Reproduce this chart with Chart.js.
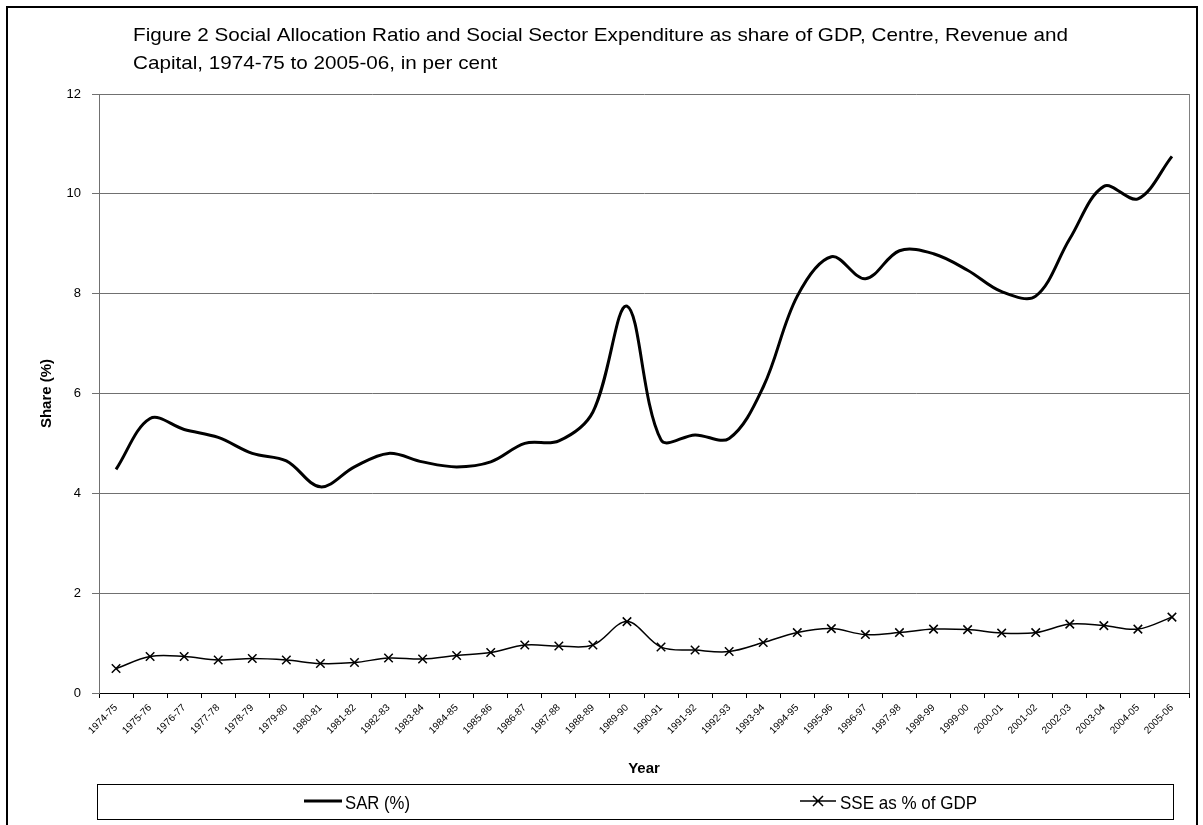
<!DOCTYPE html>
<html>
<head>
<meta charset="utf-8">
<title>Figure 2</title>
<script src="https://cdn.jsdelivr.net/npm/chart.js@4.4.0/dist/chart.umd.min.js"></script>
<style>
    body { margin: 0; background: #ffffff; }
</style>
</head>
<body>
<canvas id="myChart" width="1203" height="825"></canvas>
<script>
// data
var years = ['1974-75', '1975-76', '1976-77', '1977-78', '1978-79', '1979-80', '1980-81', '1981-82',
    '1982-83', '1983-84', '1984-85', '1985-86', '1986-87', '1987-88', '1988-89', '1989-90',
    '1990-91', '1991-92', '1992-93', '1993-94', '1994-95', '1995-96', '1996-97', '1997-98',
    '1998-99', '1999-00', '2000-01', '2001-02', '2002-03', '2003-04', '2004-05', '2005-06'];
var sarValues = [4.48, 5.5, 5.28, 5.12, 4.8, 4.65, 4.13, 4.53, 4.8, 4.63, 4.53, 4.63, 5.0, 5.05, 5.63, 7.75,
    5.07, 5.17, 5.1, 6.13, 7.95, 8.74, 8.3, 8.86, 8.8, 8.47, 8.04, 7.95, 9.1, 10.15, 9.9, 10.75];
var sseValues = [0.49, 0.73, 0.73, 0.66, 0.69, 0.66, 0.59, 0.61, 0.7, 0.68, 0.75, 0.81, 0.96, 0.94, 0.96, 1.43,
    0.92, 0.86, 0.83, 1.01, 1.21, 1.29, 1.17, 1.21, 1.28, 1.27, 1.2, 1.21, 1.38, 1.35, 1.28, 1.52];
var yMin = 0;
var yMax = 12;
var yStep = 2;
var titleLines = ['Figure 2 Social Allocation Ratio and Social Sector Expenditure as share of GDP, Centre, Revenue and',
    'Capital, 1974-75 to 2005-06, in per cent'];

var sans = "'Liberation Sans', Arial, sans-serif";

// draw text squeezed or stretched to a given width (the original uses a narrow face)
function fitText(ctx, text, x, y, width) {
    var w = ctx.measureText(text).width;
    ctx.save();
    ctx.translate(x, y);
    ctx.scale(width / w, 1);
    ctx.fillText(text, 0, 0);
    ctx.restore();
}

// frame, title and the boxed legend
var decorPlugin = {
    id: 'decor',
    beforeDraw: function(chart) {
        var ctx = chart.ctx;
        ctx.save();
        ctx.fillStyle = '#ffffff';
        ctx.fillRect(0, 0, chart.width, chart.height);
        ctx.strokeStyle = '#000000';
        ctx.lineWidth = 2;
        ctx.strokeRect(7, 7, 1190, 840);
        ctx.restore();
    },
    afterDraw: function(chart) {
        var ctx = chart.ctx;
        var area = chart.chartArea;
        ctx.save();

        // right edge of plot area
        ctx.strokeStyle = '#808080';
        ctx.lineWidth = 1;
        ctx.beginPath();
        ctx.moveTo(area.right + 0.5, area.top);
        ctx.lineTo(area.right + 0.5, area.bottom);
        ctx.stroke();

        // title
        ctx.fillStyle = '#000000';
        ctx.font = '18.6px ' + sans;
        ctx.textBaseline = 'alphabetic';
        ctx.textAlign = 'left';
        var k = 935 / ctx.measureText(titleLines[0]).width;
        fitText(ctx, titleLines[0], 133, 41, 935);
        fitText(ctx, titleLines[1], 133, 68.5, ctx.measureText(titleLines[1]).width * k);

        // legend box
        ctx.strokeStyle = '#000000';
        ctx.lineWidth = 1;
        ctx.strokeRect(97.5, 784.5, 1076, 35);
        var ds = chart.data.datasets;
        var ly = 801;

        ctx.lineWidth = 3;
        ctx.beginPath();
        ctx.moveTo(304, ly);
        ctx.lineTo(342, ly);
        ctx.stroke();
        fitText(ctx, ds[0].label, 345, 808.5, 65);

        ctx.lineWidth = 1.5;
        ctx.beginPath();
        ctx.moveTo(800, ly);
        ctx.lineTo(836, ly);
        ctx.moveTo(813, ly - 5);
        ctx.lineTo(823, ly + 5);
        ctx.moveTo(813, ly + 5);
        ctx.lineTo(823, ly - 5);
        ctx.stroke();
        fitText(ctx, ds[1].label, 840, 808.5, 137);

        ctx.restore();
    }
};

var ctx = document.getElementById('myChart').getContext('2d');
var myChart = new Chart(ctx, {
    type: 'line',
    data: {
        labels: years,
        datasets: [{
            label: 'SAR (%)',
            data: sarValues,
            borderColor: '#000000',
            borderWidth: 3,
            pointRadius: 0,
            tension: 0.35,
            fill: false
        }, {
            label: 'SSE as % of GDP',
            data: sseValues,
            borderColor: '#000000',
            borderWidth: 1.5,
            pointStyle: 'crossRot',
            pointRadius: 6,
            pointBorderWidth: 1.5,
            pointBorderColor: '#000000',
            tension: 0.35,
            fill: false
        }]
    },
    options: {
        responsive: false,
        animation: false,
        devicePixelRatio: 1,
        layout: {
            padding: { top: 94, right: 14, bottom: 45, left: 0 }
        },
        plugins: {
            legend: { display: false },
            title: { display: false },
            tooltip: { enabled: false }
        },
        scales: {
            x: {
                offset: true,
                grid: {
                    offset: true,
                    drawOnChartArea: false,
                    drawTicks: true,
                    tickLength: 5,
                    color: '#000000'
                },
                border: { display: true, color: '#000000', width: 1 },
                ticks: {
                    autoSkip: false,
                    minRotation: 45,
                    maxRotation: 45,
                    padding: 4,
                    color: '#000000',
                    font: { family: sans, size: 10 }
                },
                title: {
                    display: true,
                    text: 'Year',
                    color: '#000000',
                    font: { family: sans, size: 15, weight: 'bold' },
                    padding: { top: 0, bottom: 2 }
                },
                afterFit: function(scale) {
                    scale.height = 87;
                }
            },
            y: {
                min: yMin,
                max: yMax,
                ticks: {
                    stepSize: yStep,
                    padding: 11,
                    color: '#000000',
                    font: { family: sans, size: 13 }
                },
                grid: {
                    color: '#707070',
                    tickLength: 7,
                    drawTicks: true
                },
                border: { display: true, color: '#707070', width: 1 },
                title: {
                    display: true,
                    text: 'Share (%)',
                    color: '#000000',
                    font: { family: sans, size: 15, weight: 'bold' },
                    padding: { top: 38, bottom: 4 }
                },
                afterFit: function(scale) {
                    scale.width = 99;
                }
            }
        }
    },
    plugins: [decorPlugin]
});
</script>
</body>
</html>
